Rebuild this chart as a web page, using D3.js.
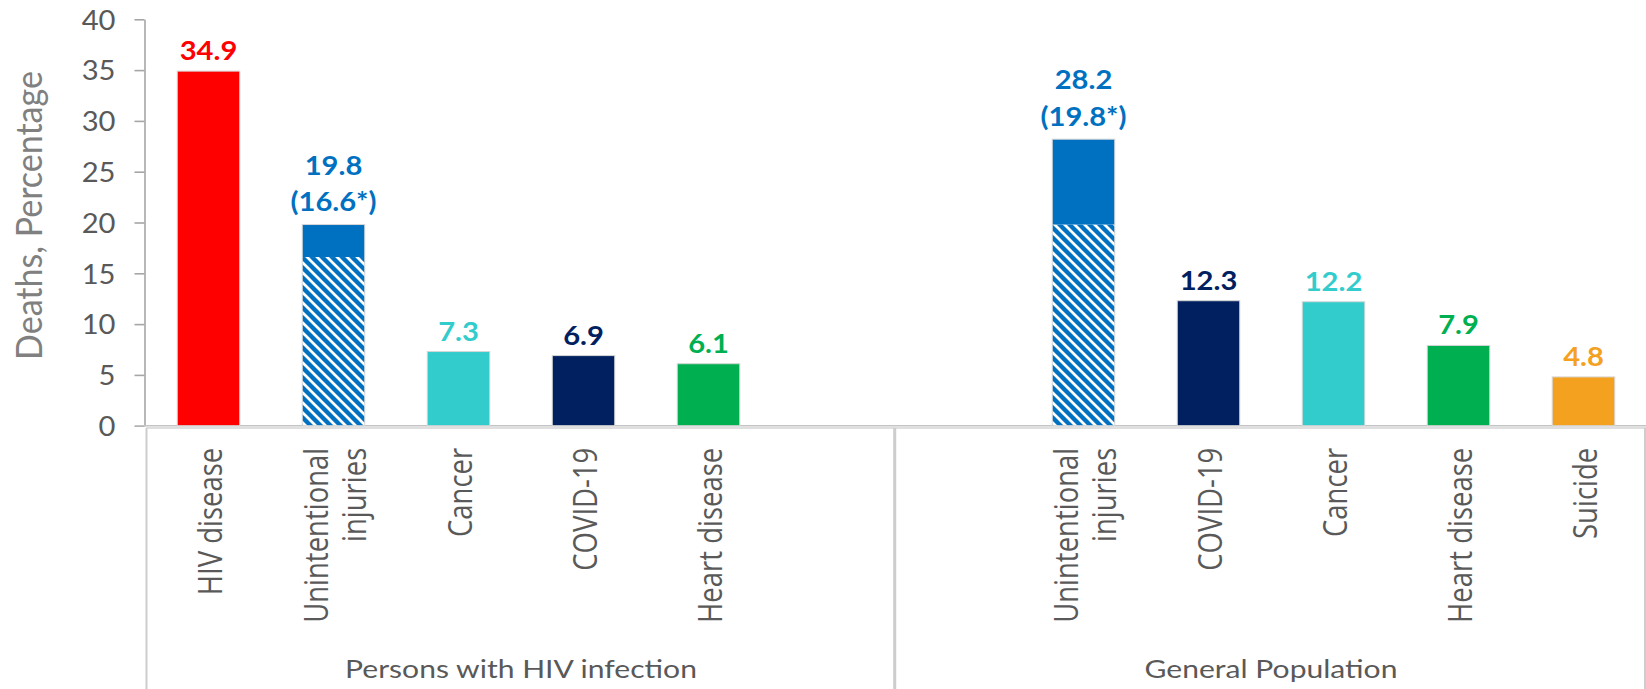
<!DOCTYPE html>
<html>
<head>
<meta charset="utf-8">
<script src="https://cdn.jsdelivr.net/npm/d3@7"></script>
<style>
  html, body { margin: 0; padding: 0; background: #fff; }
  svg { display: block; }
</style>
</head>
<body>
<svg id="chart" width="1646" height="689"></svg>
<script>
// Leading causes of death, persons with HIV infection vs. general population
const groups = ["Persons with HIV infection", "General Population"];

const hivCauses   = ["HIV disease", "Unintentional injuries", "Cancer", "COVID-19", "Heart disease"];
const hivValues   = [34.9, 19.8, 7.3, 6.9, 6.1];
const hivAdjusted = [null, 16.6, null, null, null];   // starred values (hatched part)

const genCauses   = ["Unintentional injuries", "COVID-19", "Cancer", "Heart disease", "Suicide"];
const genValues   = [28.2, 12.3, 12.2, 7.9, 4.8];
const genAdjusted = [19.8, null, null, null, null];

const yTicks = [0, 5, 10, 15, 20, 25, 30, 35, 40];
const yTitle = "Deaths, Percentage";

const causeColors = {
  "HIV disease": "#FF0000",
  "Unintentional injuries": "#0070C0",
  "Cancer": "#33CCCC",
  "COVID-19": "#002060",
  "Heart disease": "#00B050",
  "Suicide": "#F4A11F"
};

// Build slot list: each group has 6 slots, one of them left empty as spacer
const slots = [];
hivCauses.forEach((c, i) => slots.push({ key: "g0|" + c, group: 0, cause: c, value: hivValues[i], adj: hivAdjusted[i] }));
slots.push({ key: "g0|_", group: 0, cause: null });
slots.push({ key: "g1|_", group: 1, cause: null });
genCauses.forEach((c, i) => slots.push({ key: "g1|" + c, group: 1, cause: c, value: genValues[i], adj: genAdjusted[i] }));

const svg = d3.select("#chart");
const W = 1646, H = 689;

const x = d3.scaleBand()
  .domain(slots.map(d => d.key))
  .range([146, 1646])
  .paddingInner(0.5)
  .paddingOuter(0.25);

const y = d3.scaleLinear().domain([0, 40]).range([425.7, 19.3]);

// Hatch pattern for the starred portion
const defs = svg.append("defs");
const pat = defs.append("pattern")
  .attr("id", "hatch")
  .attr("patternUnits", "userSpaceOnUse")
  .attr("width", 10).attr("height", 10);
pat.append("rect").attr("width", 10).attr("height", 10).attr("fill", "#0070C0");
pat.append("path")
  .attr("d", "M-5,5 L5,15 M0,0 L10,10 M5,-5 L15,5")
  .attr("stroke", "#fff").attr("stroke-width", 2.7);

// Y axis
const yAxis = d3.axisLeft(y).tickValues(yTicks).tickSize(10).tickSizeOuter(0).tickPadding(19);
const gy = svg.append("g").attr("transform", "translate(144.5,0)").call(yAxis);
gy.select(".domain").attr("stroke", "#a6a6a6").attr("stroke-width", 1.6);
gy.selectAll(".tick line").attr("stroke", "#a6a6a6").attr("stroke-width", 1.6);
gy.selectAll(".tick text")
  .attr("fill", "#595959")
  .style("font-family", "Lato, sans-serif")
  .style("font-size", "27px")
  .attr("dy", "0.36em")
  .each(function () {
    const t = d3.select(this);
    const xx = +t.attr("x");
    t.attr("x", null).attr("transform", `translate(${xx},0) scale(1.08,1)`);
  });

// Y title
svg.append("text")
  .attr("transform", `translate(41.5,${(y(0) + y(40)) / 2 - 7}) rotate(-90) scale(1,1.05)`)
  .attr("text-anchor", "middle")
  .attr("fill", "#808080")
  .style("font-family", "Lato, sans-serif")
  .style("font-size", "34px")
  .text(yTitle);

// Category axis frame (multi-level)
const base = y(0);
const frame = svg.append("g");
frame.append("line")
  .attr("x1", 135).attr("x2", W).attr("y1", base).attr("y2", base)
  .attr("stroke", "#c4c4c4").attr("stroke-width", 1.5);
frame.append("line")
  .attr("x1", x.range()[0] + 0.5).attr("x2", W).attr("y1", base + 2.4).attr("y2", base + 2.4)
  .attr("stroke", "#d4d4d4").attr("stroke-width", 1.5);
const step = x.step();
const bounds = [x.range()[0] + 0.5, x.range()[0] + 6 * step - 1.3, x.range()[1] - 1];
bounds.forEach((bx, i) => {
  frame.append("line")
    .attr("x1", bx).attr("x2", bx).attr("y1", base + 2).attr("y2", H)
    .attr("stroke", "#cdcdcd").attr("stroke-width", i === 1 ? 3 : 2);
});

// Bars
const bars = slots.filter(d => d.cause);
const gb = svg.append("g");
bars.forEach(d => {
  const bx = x(d.key), bw = x.bandwidth();
  if (d.adj != null) {
    gb.append("rect")
      .attr("x", bx).attr("width", bw)
      .attr("y", y(d.adj)).attr("height", y(0) - y(d.adj))
      .attr("fill", "url(#hatch)");
    gb.append("rect")
      .attr("x", bx).attr("width", bw)
      .attr("y", y(d.value)).attr("height", y(d.adj) - y(d.value))
      .attr("fill", causeColors[d.cause]);
    gb.append("rect")
      .attr("x", bx).attr("width", bw)
      .attr("y", y(d.value)).attr("height", y(0) - y(d.value))
      .attr("fill", "none").attr("stroke", "#d6d6d6").attr("stroke-width", 1);
  } else {
    gb.append("rect")
      .attr("x", bx).attr("width", bw)
      .attr("y", y(d.value)).attr("height", y(0) - y(d.value))
      .attr("fill", causeColors[d.cause])
      .attr("stroke", "#d6d6d6").attr("stroke-width", 1);
  }
});

// Value labels
bars.forEach(d => {
  const cx = x(d.key) + x.bandwidth() / 2;
  const lines = d.adj != null ? [d3.format(".1f")(d.value), "(" + d3.format(".1f")(d.adj) + "*)"] : [d3.format(".1f")(d.value)];
  const lastBase = y(d.value) - (lines.length > 1 ? 13.5 : 11);
  lines.forEach((ln, i) => {
    const by = lastBase - (lines.length - 1 - i) * 36.5;
    svg.append("text")
      .attr("transform", `translate(${cx},${by}) scale(1.06,1)`)
      .attr("text-anchor", "middle")
      .attr("fill", causeColors[d.cause])
      .style("font-family", "Lato, sans-serif")
      .style("font-weight", "bold")
      .style("font-size", "27.5px")
      .text(ln);
  });
});

// Category labels (rotated, wrapped to two lines where needed)
const wrap = { "Unintentional injuries": ["Unintentional", "injuries"] };
const perp = 1.19;
bars.forEach(d => {
  const cx = x(d.key) + x.bandwidth() / 2;
  const lines = wrap[d.cause] || [d.cause];
  const n = lines.length;
  const g = svg.append("g")
    .attr("transform", `translate(${cx},${base + 22}) rotate(-90) scale(1,${perp})`);
  lines.forEach((ln, i) => {
    const off = 13 + (i - (n - 1) / 2) * 38;
    g.append("text")
      .attr("x", 0).attr("y", off / perp)
      .attr("text-anchor", "end")
      .attr("fill", "#595959")
      .style("font-family", "'Open Sans', sans-serif")
      .style("font-size", "27.5px")
      .text(ln);
  });
});

// Group labels
groups.forEach((gname, gi) => {
  const gx = x.range()[0] + (gi * 6 + 3) * step;
  svg.append("text")
    .attr("transform", `translate(${gx},678) scale(1.18,1)`)
    .attr("text-anchor", "middle")
    .attr("fill", "#595959")
    .style("font-family", "Lato, sans-serif")
    .style("font-size", "25.5px")
    .text(gname);
});
</script>
</body>
</html>
